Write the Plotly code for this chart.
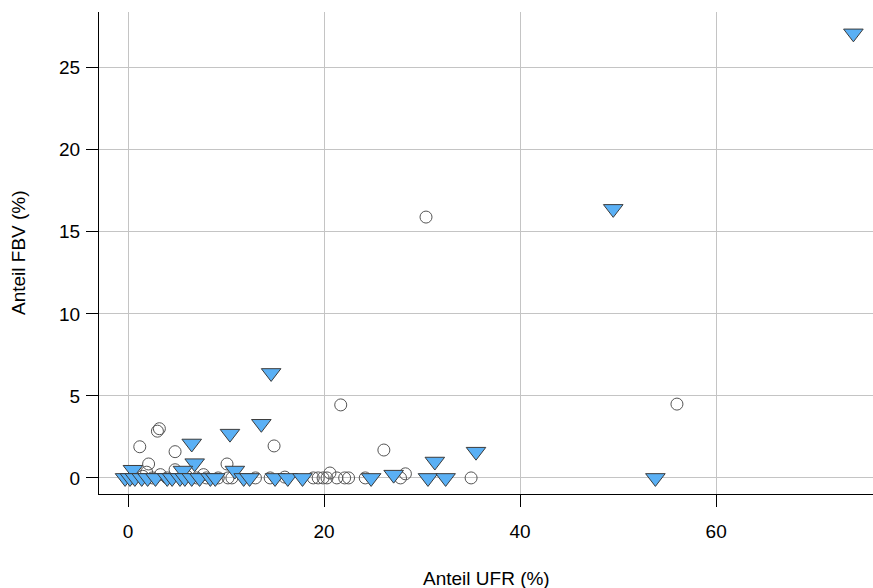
import plotly.graph_objects as go

# Open circles (group 1)
circle_x = [30.4, 21.7, 56.0, 26.1, 14.9, 3.0, 3.2, 1.2, 4.8, 2.1, 10.1, 4.8, 1.9,
            20.6, 28.3, 3.3, 7.7, 0.5, 1.5, 2.5, 4.0, 6.0, 7.0, 8.0, 9.2, 10.2, 10.6,
            13.0, 14.5, 16.0, 18.9, 19.4, 19.9, 20.3, 21.3, 22.1, 22.5, 24.2, 27.8, 35.0]
circle_y = [15.9, 4.45, 4.5, 1.7, 1.95, 2.85, 3.0, 1.9, 1.6, 0.85, 0.85, 0.5, 0.35,
            0.3, 0.25, 0.2, 0.2, 0.0, 0.1, 0.0, 0.0, 0.1, 0.0, 0.0, 0.0, 0.0, 0.0,
            0.0, 0.0, 0.05, 0.0, 0.0, 0.0, 0.0, 0.0, 0.0, 0.0, 0.0, 0.0, 0.0]

# Blue down-triangles (group 2)
tri_x = [74.0, 49.5, 14.6, 13.6, 10.4, 6.5, 6.8, 5.6, 10.9, 0.5, 31.3, 35.5, 27.1,
         -0.3, 0.2, 0.7, 1.4, 2.0, 2.8, 4.0, 4.5, 5.3, 5.8, 6.5, 7.3, 8.4, 8.9,
         11.8, 12.4, 15.0, 16.3, 17.8, 24.8, 30.6, 32.4, 53.8]
tri_y = [27.1, 16.4, 6.4, 3.3, 2.7, 2.1, 0.9, 0.45, 0.45, 0.5, 1.0, 1.6, 0.2,
         0.0, 0.0, 0.0, 0.0, 0.0, 0.0, 0.0, 0.0, 0.0, 0.0, 0.0, 0.0, 0.0, 0.0,
         0.0, 0.0, 0.0, 0.0, 0.0, 0.0, 0.0, 0.0, 0.0]

x_ticks = [0, 20, 40, 60]
y_ticks = [0, 5, 10, 15, 20, 25]

FONT = "Liberation Sans, Arial, sans-serif"
FS = 19

fig = go.Figure()
fig.add_trace(go.Scatter(
    x=circle_x, y=circle_y, mode="markers", showlegend=False,
    marker=dict(symbol="circle", size=12, color="rgba(255,255,255,0)",
                line=dict(color="#555555", width=1)),
))
fig.add_trace(go.Scatter(
    x=tri_x, y=tri_y, mode="markers", showlegend=False,
    marker=dict(symbol="triangle-down", size=17, color="#5AB0F5",
                line=dict(color="#3c3c3c", width=1)),
))

axis_common = dict(
    showline=True, linecolor="black", linewidth=1, mirror=False,
    ticks="outside", ticklen=12, tickwidth=1, tickcolor="black",
    showgrid=True, gridcolor="#c4c4c4", gridwidth=1, zeroline=False,
    tickfont=dict(family=FONT, size=FS, color="black"),
)

fig.update_xaxes(range=[-2.96, 76.0], tickvals=x_ticks, ticklabelstandoff=8, **axis_common)
fig.update_yaxes(range=[-0.98, 28.4], tickvals=y_ticks, ticklabelstandoff=2, **axis_common)

fig.update_layout(
    width=873, height=588,
    margin=dict(l=99, r=0, t=12, b=94),
    plot_bgcolor="white", paper_bgcolor="white",
    font=dict(family=FONT, size=FS, color="black"),
    annotations=[
        dict(text="Anteil UFR (%)", xref="paper", yref="paper", x=0.5, y=0,
             yshift=-84, xanchor="center", yanchor="middle", showarrow=False,
             font=dict(family=FONT, size=FS, color="black")),
        dict(text="Anteil FBV (%)", xref="paper", yref="paper", x=0, y=0.5,
             xshift=-81, xanchor="center", yanchor="middle", showarrow=False,
             textangle=-90, font=dict(family=FONT, size=FS, color="black")),
    ],
)

fig.write_html("out.html")
